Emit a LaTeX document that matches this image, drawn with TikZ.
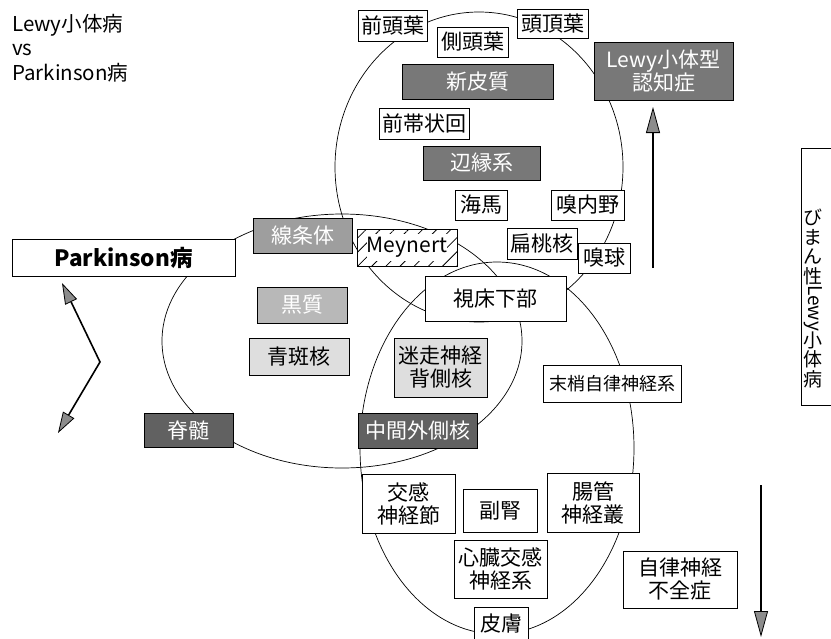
\documentclass[tikz,border=0pt]{standalone}
\usepackage{fontspec}
\setmainfont{Noto Sans CJK JP}
\usetikzlibrary{arrows.meta,patterns.meta}
\definecolor{gdark}{gray}{0.47}
\definecolor{gdarker}{gray}{0.38}
\definecolor{gmid}{gray}{0.62}
\definecolor{glight}{gray}{0.72}
\definecolor{gpale}{gray}{0.87}
\definecolor{tipgray}{gray}{0.55}
\begin{document}
\begin{tikzpicture}[x=1pt,y=-1pt,
  box/.style={draw=black, fill=white, line width=0.8pt, inner sep=0pt,
    font=\fontsize{21}{23}\selectfont, align=center},
  darkbox/.style={box, fill=gdark, text=white},
  darkerbox/.style={box, fill=gdarker, text=white},
  midbox/.style={box, fill=gmid, text=white},
  lightbox/.style={box, fill=glight, text=white},
  palebox/.style={box, fill=gpale, text=black},
  ring/.style={draw=black, line width=0.7pt},
  vtext/.style={inner sep=0pt, align=center, font=\fontsize{19}{19.5}\selectfont},
  bigarrow/.style={line width=2.2pt, -{Triangle[length=26pt,width=14pt,fill=tipgray,line width=0.8pt]}},
  zigarrow/.style={line width=1.6pt, {Triangle[length=21pt,width=13pt,fill=tipgray,line width=0.8pt]}-{Triangle[length=21pt,width=13pt,fill=tipgray,line width=0.8pt]}}
]
\clip (0,0) rectangle (831,638);
\fill[white] (0,0) rectangle (831,638);

% title
\node[anchor=north west, align=left, inner sep=0pt, font=\fontsize{20.5}{24.5}\selectfont] (title) at (12,14) {Lewy小体病\\vs\\Parkinson病};

% circles
\draw[ring] (479,167) ellipse [x radius=144, y radius=155];
\draw[ring] (342,341) ellipse [x radius=180, y radius=127];
\draw[ring] (497,448) ellipse [x radius=137, y radius=186];

% cortex circle boxes
\node[box, minimum width=69, minimum height=31] (zento) at (392.5,25.5) {前頭葉};
\node[box, minimum width=71, minimum height=30] (sokuto) at (472.5,42) {側頭葉};
\node[box, minimum width=71, minimum height=29] (tocho) at (552.5,23.5) {頭頂葉};
\node[darkbox, minimum width=151, minimum height=35] (shinhi) at (477.5,81.5) {新皮質};
\node[darkbox, minimum width=139, minimum height=58] (dlb) at (663.5,71) {Lewy小体型\\認知症};
\node[box, minimum width=90, minimum height=31] (zentai) at (424.5,123.5) {前帯状回};
\node[darkbox, minimum width=117, minimum height=34] (henen) at (481.5,163) {辺縁系};
\node[box, minimum width=52, minimum height=30] (kaiba) at (481,205) {海馬};
\node[box, minimum width=73, minimum height=30] (kyunai) at (587.5,205) {嗅内野};
\node[box, minimum width=70, minimum height=31] (hento) at (542,243.5) {扁桃核};
\node[box, minimum width=52, minimum height=30] (kyukyu) at (604,258) {嗅球};
\node[box, minimum width=100, minimum height=37, fill=white,
  postaction={pattern={Lines[angle=45,distance=10pt,line width=0.8pt]}}] (meynert) at (407,247.5) {\colorbox{white}{\hspace{-3.5pt}Meynert\hspace{-3.5pt}}};
\node[box, minimum width=141, minimum height=45] (shisho) at (495.5,298.5) {視床下部};

% brainstem circle boxes
\node[box, minimum width=223, minimum height=37, font=\fontsize{22.5}{24}\selectfont\bfseries] (pd) at (123.5,257.5) {Parkinson病};
\node[midbox, minimum width=99, minimum height=35] (senjo) at (302.5,235.5) {線条体};
\node[lightbox, minimum width=90, minimum height=36] (kokushitsu) at (302,305) {黒質};
\node[palebox, minimum width=100, minimum height=37] (seihan) at (299,356.5) {青斑核};
\node[palebox, minimum width=93, minimum height=59] (meiso) at (440.5,367.5) {迷走神経\\背側核};
\node[darkerbox, minimum width=89, minimum height=34] (sekizui) at (188.5,430) {脊髄};
\node[darkerbox, minimum width=119, minimum height=35] (chukan) at (417.5,430.5) {中間外側核};

% peripheral circle boxes
\node[box, minimum width=138, minimum height=37, font=\fontsize{18}{20}\selectfont] (masho) at (612,383.5) {末梢自律神経系};
\node[box, minimum width=93, minimum height=59] (kokan) at (408.5,503.5) {交感\\神経節};
\node[box, minimum width=74, minimum height=43] (fukujin) at (500,510.5) {副腎};
\node[box, minimum width=92, minimum height=59] (chokan) at (593,502.5) {腸管\\神経叢};
\node[box, minimum width=93, minimum height=58] (shinzo) at (500.5,569) {心臓交感\\神経系};
\node[box, minimum width=54, minimum height=33] (hifu) at (501,623.5) {皮膚};
\node[box, minimum width=114, minimum height=57] (fuzen) at (680,579.5) {自律神経\\不全症};

% diffuse Lewy body disease box
\node[box, anchor=north west, minimum width=60, minimum height=257] (dlbd) at (801,148) {};
\node[vtext, anchor=north] (vt1) at (813,209) {び\\ま\\ん\\性};
\node[vtext, rotate=-90, anchor=west] (vt2) at (vt1.south) {Lewy};
\node[vtext, anchor=north] (vt3) at (vt2.east) {小\\体\\病};

% arrows
\coordinate (upS) at (653,268);
\coordinate (upE) at (653,107);
\draw[bigarrow] (upS) -- (upE);
\coordinate (dnS) at (761,485);
\coordinate (dnE) at (761,637);
\draw[bigarrow] (dnS) -- (dnE);
\coordinate (z1) at (62,283);
\coordinate (z2) at (100,362);
\coordinate (z3) at (58,433);
\draw[zigarrow] (z1) -- (z2) -- (z3);
\end{tikzpicture}
\end{document}
